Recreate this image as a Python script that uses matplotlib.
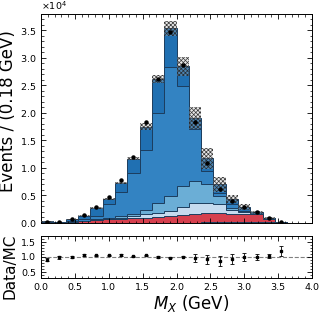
import numpy as np
import matplotlib
matplotlib.use("Agg")
import matplotlib.pyplot as plt
from matplotlib.ticker import MultipleLocator, ScalarFormatter

plt.rcParams["hatch.linewidth"] = 0.5

# ---------------- data (events per bin) ----------------
bin_edges = np.linspace(0.0, 4.0, 23)          # 22 bins of ~0.18 GeV
data = [200, 130, 600, 1400, 2800, 4600, 7700, 11900, 18400, 26200, 34700,
        28800, 18400, 10800, 6100, 4000, 2800, 1900, 920, 120, 0, 0]

# stacked MC components (cumulative tops, bottom -> top)
orange_top = [0, 0, 0, 0, 0, 0, 0, 0, 0, 0, 0, 0, 0, 120, 150, 150, 120, 100, 50, 0, 0, 0]
red_top = [80, 50, 150, 250, 500, 600, 730, 800, 900, 1100, 1300, 1400, 1600, 1700,
           1700, 1600, 1500, 1500, 740, 50, 0, 0]
vlight_top = [100, 60, 170, 300, 550, 700, 900, 1200, 1600, 1800, 2200, 2800, 3500, 3500,
              3400, 2300, 1900, 1550, 770, 60, 0, 0]
light_top = [120, 70, 200, 350, 650, 800, 1150, 1600, 2300, 3500, 4800, 6750, 7600, 7050,
             4900, 2600, 2100, 1570, 800, 70, 0, 0]
medium_top = [180, 100, 350, 680, 1280, 3350, 5500, 9000, 13300, 20000, 28300, 24800,
              17000, 9500, 5400, 3400, 2200, 1600, 840, 80, 0, 0]
total_mc = [220, 130, 600, 1300, 2650, 4350, 7200, 11650, 17500, 26200, 35400, 28500,
            19100, 11700, 7000, 4300, 2800, 1900, 885, 100, 0, 0]
mc_unc = [30, 20, 40, 50, 120, 150, 180, 250, 670, 760, 1370, 1760, 2000, 1900, 1400,
          760, 520, 300, 180, 30, 0, 0]
ratio_err = [0.05, 0.05, 0.03, 0.03, 0.02, 0.02, 0.02, 0.02, 0.02, 0.02, 0.02, 0.02,
             0.12, 0.15, 0.16, 0.17, 0.13, 0.09, 0.07, 0.16, 0, 0]

colors = {
    "orange": "#e8a040",
    "red": "#d6404e",
    "vlight": "#c6dbef",
    "light": "#6baed6",
    "medium": "#3383c2",
    "dark": "#2070b2",
}
edge_col = "#1c3d5e"

# ---------------- figure ----------------
W, H = 324, 313
fig = plt.figure(figsize=(W / 100, H / 100), dpi=100)
ax = fig.add_axes([41 / W, 1 - 222.7 / H, 271 / W, 208.7 / H])
rax = fig.add_axes([41 / W, 1 - 278 / H, 271 / W, 42 / H], sharex=ax)

edges = bin_edges
centers = 0.5 * (edges[:-1] + edges[1:])
width = np.diff(edges)

layers = [(total_mc, "dark"), (medium_top, "medium"), (light_top, "light"),
          (vlight_top, "vlight"), (red_top, "red"), (orange_top, "orange")]
for vals, key in layers:
    ax.hist(centers, bins=edges, weights=vals, histtype="stepfilled",
            facecolor=colors[key], edgecolor=edge_col, linewidth=0.7)

tot = np.array(total_mc, float)
unc = np.array(mc_unc, float)
mask = tot > 0
ax.bar(centers[mask], 2 * unc[mask], bottom=tot[mask] - unc[mask], width=width[mask],
       facecolor=(0.7, 0.7, 0.7, 0.3), edgecolor=(0.15, 0.15, 0.15, 0.9),
       hatch="xxxxxxxx", linewidth=0.0, zorder=3)

d = np.array(data, float)
dm = d > 0
ax.errorbar(centers[dm], d[dm], yerr=np.sqrt(d[dm]), fmt="o", color="k",
            markersize=2.2, elinewidth=0.6, capsize=0, zorder=5)

ax.set_xlim(0, 4.0)
ax.set_ylim(0, 38000)
ax.set_ylabel("Events / (0.18 GeV)", fontsize=12)
fmt = ScalarFormatter(useMathText=True)
fmt.set_powerlimits((0, 0))
ax.yaxis.set_major_formatter(fmt)
ax.yaxis.get_offset_text().set_fontsize(6.8)
ax.yaxis.set_major_locator(MultipleLocator(5000))
ax.yaxis.set_minor_locator(MultipleLocator(1000))
ax.xaxis.set_major_locator(MultipleLocator(0.5))
ax.xaxis.set_minor_locator(MultipleLocator(0.1))
plt.setp(ax.get_xticklabels(), visible=False)

# ratio
rm = tot > 0
ratio = np.where(rm, d / np.where(rm, tot, 1), np.nan)
rerr = np.array(ratio_err)
rsel = rm & (d > 0)
rax.errorbar(centers[rsel], ratio[rsel], yerr=rerr[rsel], fmt="s", color="k",
             markersize=1.6, elinewidth=0.6, capsize=1.3, capthick=0.6, zorder=5)
rax.axhline(1.0, color="gray", linestyle="--", linewidth=0.8, zorder=1)
rax.set_ylim(0.3, 1.7)
rax.yaxis.set_major_locator(MultipleLocator(0.5))
rax.yaxis.set_minor_locator(MultipleLocator(0.1))
rax.set_ylabel("Data/MC", fontsize=11)
rax.set_xlabel("$M_X$ (GeV)", fontsize=12)

for a in (ax, rax):
    a.tick_params(which="both", direction="in", top=True, right=True, labelsize=6.8)
    a.tick_params(which="major", length=3.5, width=0.6)
    a.tick_params(which="minor", length=1.8, width=0.5)
    for s in a.spines.values():
        s.set_linewidth(0.7)

ax.yaxis.set_label_coords(-0.088, 0.535)
rax.yaxis.set_label_coords(-0.088, 0.28)
rax.xaxis.set_label_coords(0.553, -0.36)

fig.savefig("out.png", dpi=100)
